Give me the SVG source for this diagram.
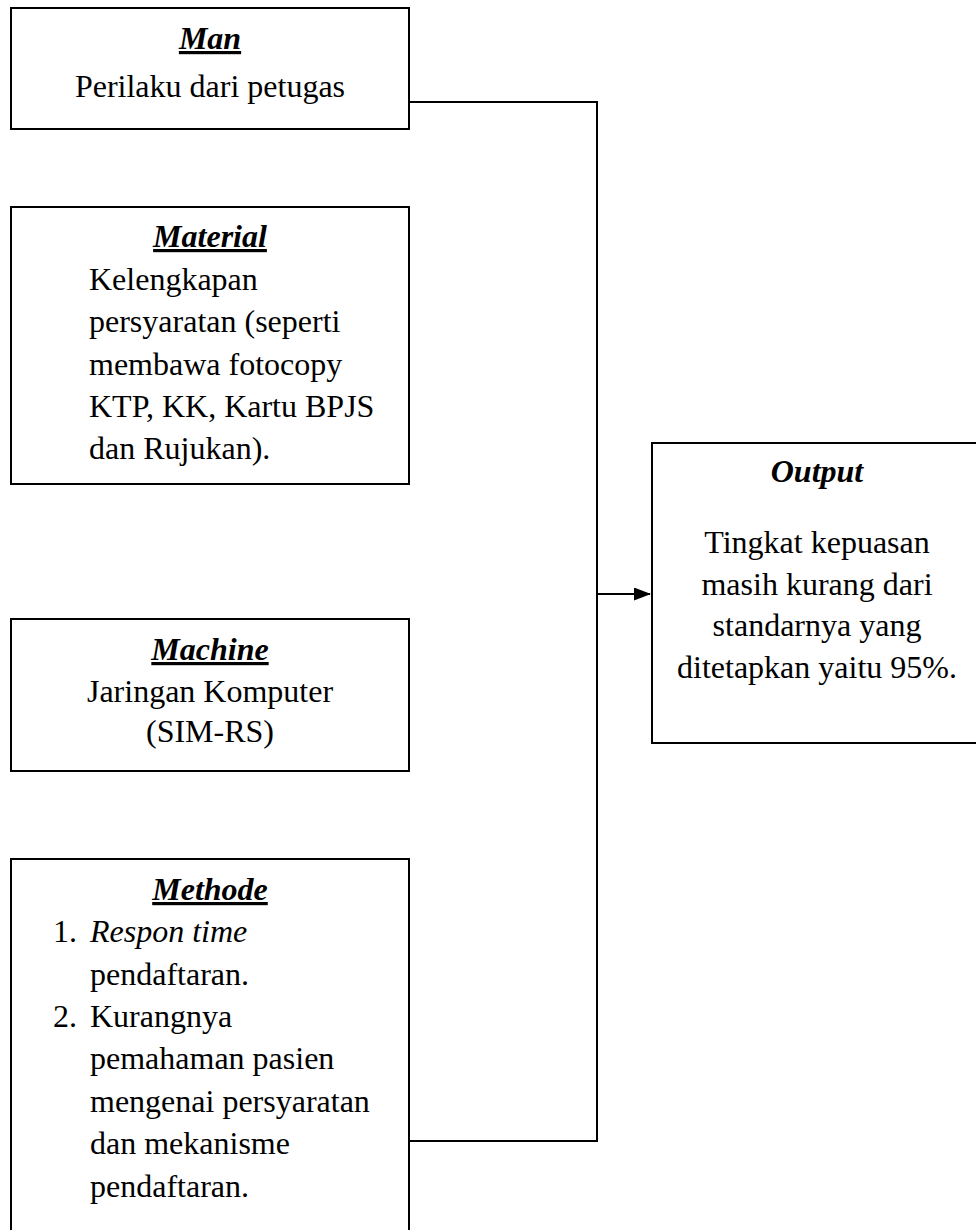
<svg xmlns="http://www.w3.org/2000/svg" width="976" height="1230" viewBox="0 0 976 1230">
<style>
.box{fill:#fff;stroke:#000;stroke-width:2}
.t{font-family:"Liberation Serif","Times New Roman",serif;font-size:32px;fill:#000}
.c{text-anchor:middle}
.h{font-weight:bold;font-style:italic;text-decoration:underline;text-decoration-thickness:3px}
.o{font-weight:bold;font-style:italic}
.i{font-style:italic}
.ln{fill:none;stroke:#000;stroke-width:2}
</style>
<defs>
<marker id="arr" markerWidth="17" markerHeight="13" refX="16" refY="6.5" orient="auto" markerUnits="userSpaceOnUse">
<path d="M0,0 L17,6.5 L0,13 Z" fill="#000"/>
</marker>
</defs>
<rect width="976" height="1230" fill="#fff"/>
<g id="connectors">
<polyline class="ln" points="410,102 597,102 597,1141 410,1141"/>
<line class="ln" x1="597" y1="594" x2="650" y2="594" marker-end="url(#arr)"/>
</g>
<g id="man">
<rect class="box" x="11" y="8" width="398" height="121"/>
<text class="t c h" x="210" y="49">Man</text>
<text class="t c" x="210" y="97">Perilaku dari petugas</text>
</g>
<g id="material">
<rect class="box" x="11" y="207" width="398" height="277"/>
<text class="t c h" x="210" y="247">Material</text>
<text class="t" x="89" y="290">Kelengkapan</text>
<text class="t" x="89" y="332">persyaratan (seperti</text>
<text class="t" x="89" y="375">membawa fotocopy</text>
<text class="t" x="89" y="417">KTP, KK, Kartu BPJS</text>
<text class="t" x="89" y="459">dan Rujukan).</text>
</g>
<g id="machine">
<rect class="box" x="11" y="619" width="398" height="152"/>
<text class="t c h" x="210" y="660">Machine</text>
<text class="t c" x="210" y="702">Jaringan Komputer</text>
<text class="t c" x="210" y="742">(SIM-RS)</text>
</g>
<g id="methode">
<rect class="box" x="11" y="859" width="398" height="390"/>
<text class="t c h" x="210" y="900">Methode</text>
<text class="t" x="53" y="942">1.</text>
<text class="t i" x="90" y="942">Respon time</text>
<text class="t" x="90" y="985">pendaftaran.</text>
<text class="t" x="53" y="1027">2.</text>
<text class="t" x="90" y="1027">Kurangnya</text>
<text class="t" x="90" y="1069">pemahaman pasien</text>
<text class="t" x="90" y="1112">mengenai persyaratan</text>
<text class="t" x="90" y="1154">dan mekanisme</text>
<text class="t" x="90" y="1197">pendaftaran.</text>
</g>
<g id="output">
<rect class="box" x="652" y="443" width="340" height="300"/>
<text class="t c o" x="817" y="482">Output</text>
<text class="t c" x="817" y="553">Tingkat kepuasan</text>
<text class="t c" x="817" y="595">masih kurang dari</text>
<text class="t c" x="817" y="636">standarnya yang</text>
<text class="t c" x="817" y="678">ditetapkan yaitu 95%.</text>
</g>
</svg>
